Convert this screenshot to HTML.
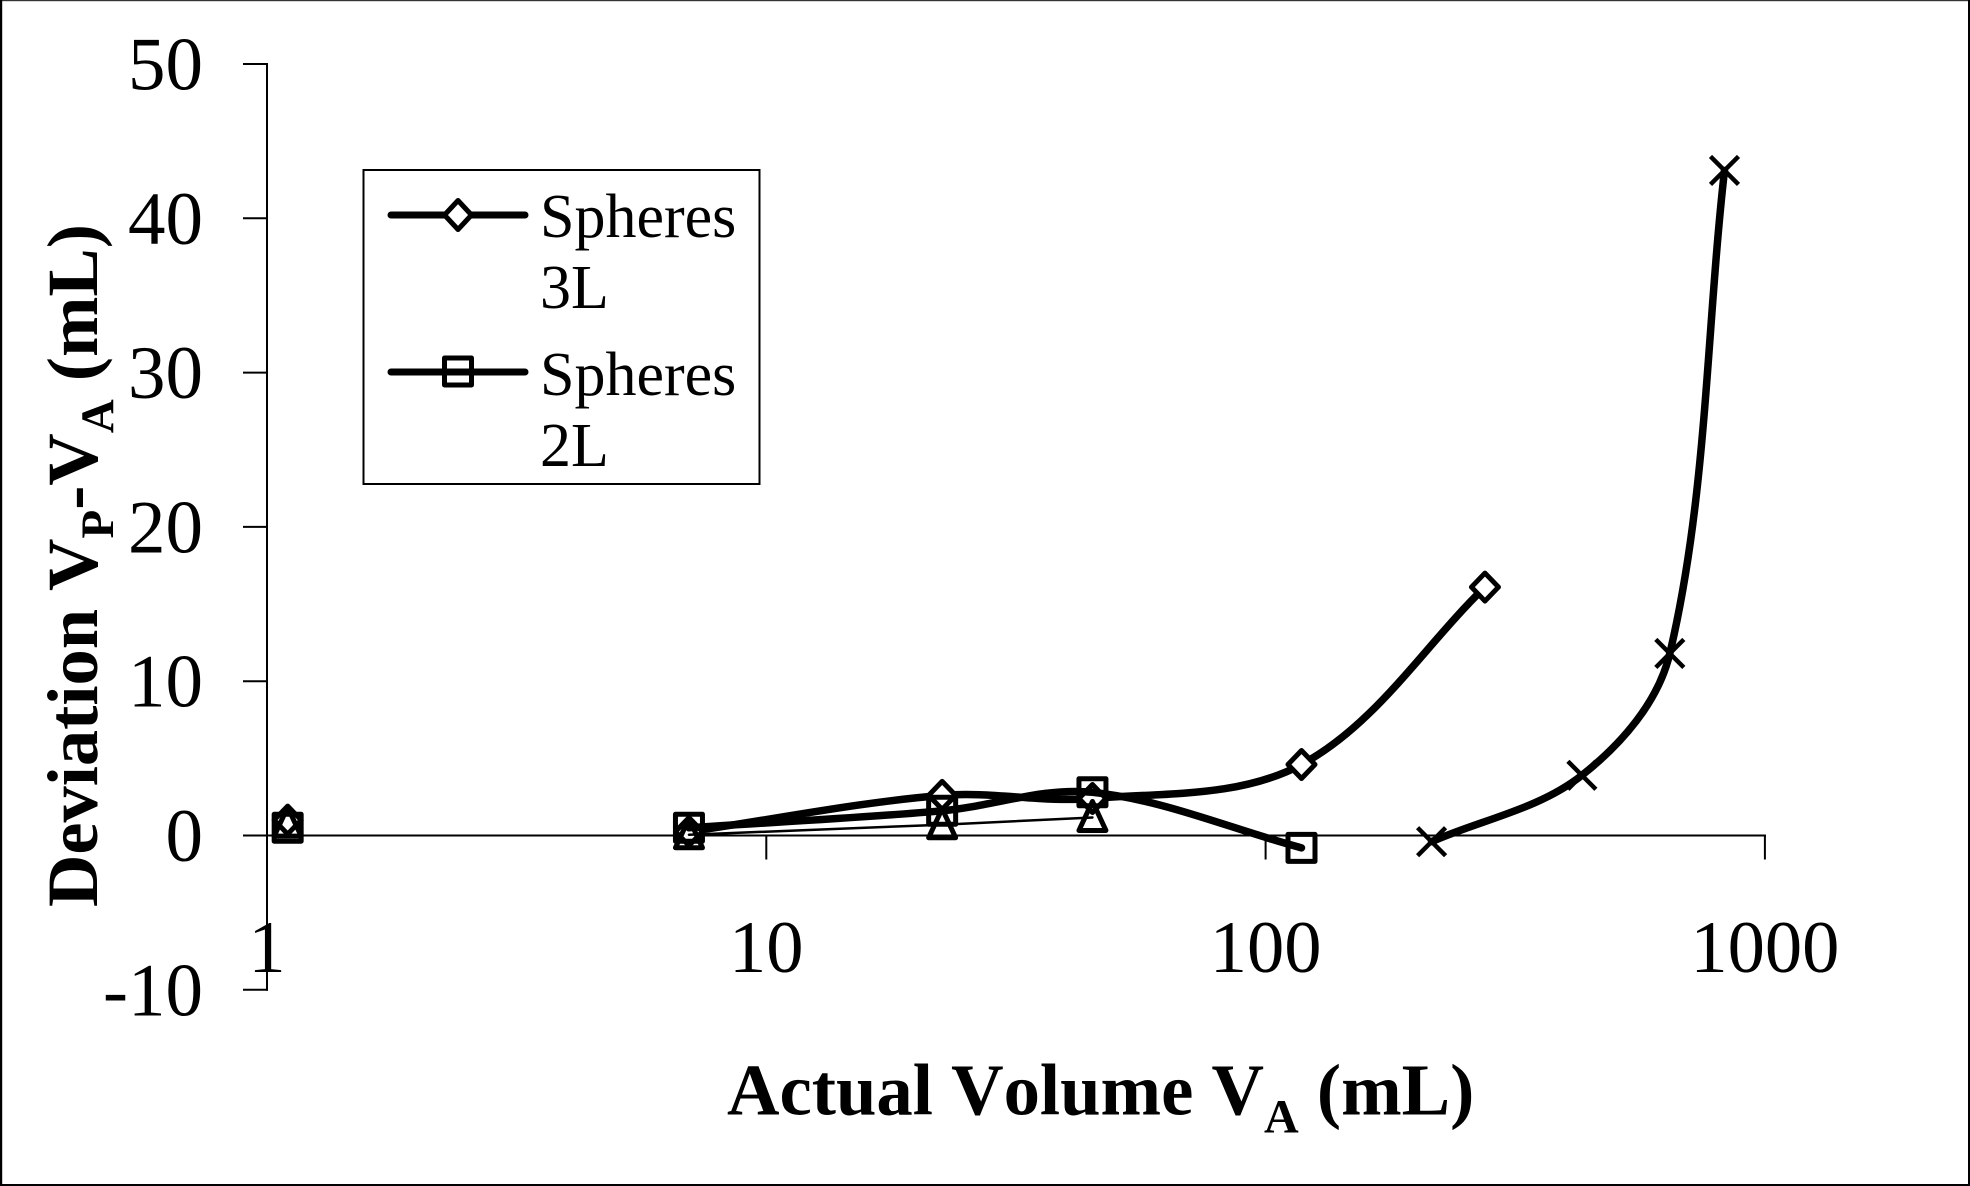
<!DOCTYPE html>
<html>
<head>
<meta charset="utf-8">
<title>Deviation vs Actual Volume</title>
<style>
html,body{margin:0;padding:0;background:#fff;width:1970px;height:1186px;overflow:hidden}
svg{display:block}
text{font-family:"Liberation Serif",serif;fill:#000;font-kerning:none}
</style>
</head>
<body>
<svg id="chart" width="1970" height="1186" viewBox="0 0 1970 1186" xmlns="http://www.w3.org/2000/svg">
  <rect x="0" y="0" width="1970" height="1186" fill="#fff"/>
  <g>
    <rect x="0" y="0" width="1970" height="1.2" fill="#333"/>
    <rect x="0" y="0" width="2.2" height="1186" fill="#000"/>
    <rect x="1968" y="0" width="2" height="1186" fill="#000"/>
    <rect x="0" y="1184" width="1970" height="2" fill="#000"/>
  </g>
  <g id="axes"></g>
  <g id="series"></g>

  <text x="727" y="1114.5" font-size="72.7" font-weight="bold">Actual Volume V<tspan font-size="48" dy="18">A</tspan><tspan dy="-18"> (mL)</tspan></text>
  <text transform="translate(97,907) rotate(-90)" font-size="72.5" font-weight="bold">Deviation V<tspan font-size="47" dy="16">P</tspan><tspan dy="-16">-V</tspan><tspan font-size="47" dy="16">A</tspan><tspan dy="-16"> (mL)</tspan></text>

  <g>
    <rect x="363.5" y="170" width="396" height="314" fill="#fff" stroke="#000" stroke-width="2"/>
    <g>
      <line x1="391" y1="215" x2="525" y2="215" stroke="#000" stroke-width="7" stroke-linecap="round"/>
      <path d="M458 200.5L471.5 215L458 229.5L444.5 215Z" fill="#fff" stroke="#000" stroke-width="5" stroke-linejoin="round"/>
      <text x="540" y="237" font-size="62">Spheres</text>
      <text x="540" y="308" font-size="62">3L</text>
    </g>
    <g>
      <line x1="391" y1="372" x2="525" y2="372" stroke="#000" stroke-width="7" stroke-linecap="round"/>
      <rect x="444.5" y="358" width="27" height="27" fill="none" stroke="#000" stroke-width="5" stroke-linejoin="round"/>
      <text x="540" y="395" font-size="62">Spheres</text>
      <text x="540" y="466" font-size="62">2L</text>
    </g>
  </g>
</svg>
<script>
// ---- chart data ----
const xTickValues = [1, 10, 100, 1000];
const xTickLabels = ["1", "10", "100", "1000"];
const yTickValues = [-10, 0, 10, 20, 30, 40, 50];
const yTickLabels = ["-10", "0", "10", "20", "30", "40", "50"];

const diamondX = [1.1, 7, 22.5, 45, 118, 275];
const diamondY = [1.0, 0.25, 2.6, 2.4, 4.6, 16.1];
const squareX = [1.1, 7, 22.5, 45, 118];
const squareY = [0.5, 0.5, 1.6, 2.8, -0.8];
const triangleX = [1.1, 7, 22.5, 45];
const triangleY = [0.8, 0.05, 0.7, 1.17];
const crossX = [215, 430, 645, 830];
const crossY = [-0.4, 3.9, 11.8, 43.1];

// ---- axis functions ----
const sx = v => 267 + Math.log10(v) * 499.3;
const sy = v => 835.5 - v * 15.43;

const NS = "http://www.w3.org/2000/svg";
const axes = document.getElementById("axes");
const seriesGroup = document.getElementById("series");

function line(parent, x1, y1, x2, y2, w) {
  const el = document.createElementNS(NS, "line");
  el.setAttribute("x1", x1);
  el.setAttribute("y1", y1);
  el.setAttribute("x2", x2);
  el.setAttribute("y2", y2);
  el.setAttribute("stroke", "#000");
  el.setAttribute("stroke-width", w);
  el.setAttribute("stroke-linecap", "square");
  parent.appendChild(el);
  return el;
}

// axis lines
const yAxisLine = line(axes, sx(1), sy(50), sx(1), sy(-10), 2);


const xAxisLine = line(axes, sx(1), sy(0), sx(1000), sy(0), 2);



// x ticks
xTickValues.forEach((v, i) => {
  const t = line(axes, sx(v), sy(0), sx(v), sy(0) + 23, 2);
  
  
  const lab = document.createElementNS(NS, "text");
  lab.setAttribute("x", sx(v));
  lab.setAttribute("y", 972);
  lab.setAttribute("text-anchor", "middle");
  lab.setAttribute("font-size", "74.5");
  lab.textContent = xTickLabels[i];
  
  
  axes.appendChild(lab);
});

// y ticks
yTickValues.forEach((v, i) => {
  const t = line(axes, sx(1) - 23, sy(v), sx(1), sy(v), 2);
  
  
  const lab = document.createElementNS(NS, "text");
  lab.setAttribute("x", 203);
  lab.setAttribute("y", sy(v) + 25.5);
  lab.setAttribute("text-anchor", "end");
  lab.setAttribute("font-size", "75");
  lab.textContent = yTickLabels[i];
  
  
  axes.appendChild(lab);
});

// smooth path through points: tangent along neighbouring chord, handle length scaled to the segment
function unitTangent(a, b) {
  const dx = b[0] - a[0];
  const dy = b[1] - a[1];
  const len = Math.hypot(dx, dy) || 1;
  return [dx / len, dy / len];
}
function smoothPath(pts) {
  let d = "M" + pts[0][0] + " " + pts[0][1];
  for (let i = 0; i < pts.length - 1; i++) {
    const p0 = pts[Math.max(i - 1, 0)];
    const p1 = pts[i];
    const p2 = pts[i + 1];
    const p3 = pts[Math.min(i + 2, pts.length - 1)];
    const seg = Math.hypot(p2[0] - p1[0], p2[1] - p1[1]) / 3;
    const t1 = unitTangent(p0, p2);
    const t2 = unitTangent(p1, p3);
    d += "C" + (p1[0] + t1[0] * seg) + " " + (p1[1] + t1[1] * seg) + " " +
         (p2[0] - t2[0] * seg) + " " + (p2[1] - t2[1] * seg) + " " + p2[0] + " " + p2[1];
  }
  return d;
}

function drawMarker(parent, kind, cx, cy) {
  const el = document.createElementNS(NS, "path");
  let d = "";
  let fill = "none";
  let sw = "5";
  if (kind === "diamond") {
    d = `M${cx} ${cy - 14}L${cx + 13.5} ${cy}L${cx} ${cy + 14}L${cx - 13.5} ${cy}Z`;
    fill = "#fff";
  } else if (kind === "square") {
    d = `M${cx - 13.5} ${cy - 13.5}H${cx + 13.5}V${cy + 13.5}H${cx - 13.5}Z`;
  } else if (kind === "triangle") {
    d = `M${cx} ${cy - 16}L${cx + 13.5} ${cy + 13}H${cx - 13.5}Z`;
  } else {
    d = `M${cx - 14} ${cy - 14}L${cx + 14} ${cy + 14}M${cx + 14} ${cy - 14}L${cx - 14} ${cy + 14}`;
    sw = "4.5";
  }
  el.setAttribute("d", d);
  el.setAttribute("fill", fill);
  el.setAttribute("stroke", "#000");
  el.setAttribute("stroke-width", sw);
  el.setAttribute("stroke-linejoin", "round");
  
  
  parent.appendChild(el);
}

// firstLineIndex: the first sample (at 1.1 mL) is not connected to the rest of the curve
function drawSeries(name, kind, xs, ys, width, firstLineIndex, smooth) {
  const g = document.createElementNS(NS, "g");
  
  
  const pts = xs.map((x, i) => [sx(x), sy(ys[i])]).slice(firstLineIndex);
  const p = document.createElementNS(NS, "path");
  p.setAttribute("d", smooth ? smoothPath(pts) : "M" + pts.map(q => q[0] + " " + q[1]).join("L"));
  p.setAttribute("fill", "none");
  p.setAttribute("stroke", "#000");
  p.setAttribute("stroke-width", width);
  p.setAttribute("stroke-linecap", "round");
  
  
  g.appendChild(p);
  xs.forEach((x, i) => drawMarker(g, kind, sx(x), sy(ys[i])));
  seriesGroup.appendChild(g);
}

drawSeries("series-spheres-3l", "diamond", diamondX, diamondY, 7.5, 1, true);
drawSeries("series-spheres-2l", "square", squareX, squareY, 7.5, 1, true);
drawSeries("series-triangle", "triangle", triangleX, triangleY, 2.5, 1, false);
drawSeries("series-cross", "cross", crossX, crossY, 7.5, 0, true);
</script>
</body>
</html>
